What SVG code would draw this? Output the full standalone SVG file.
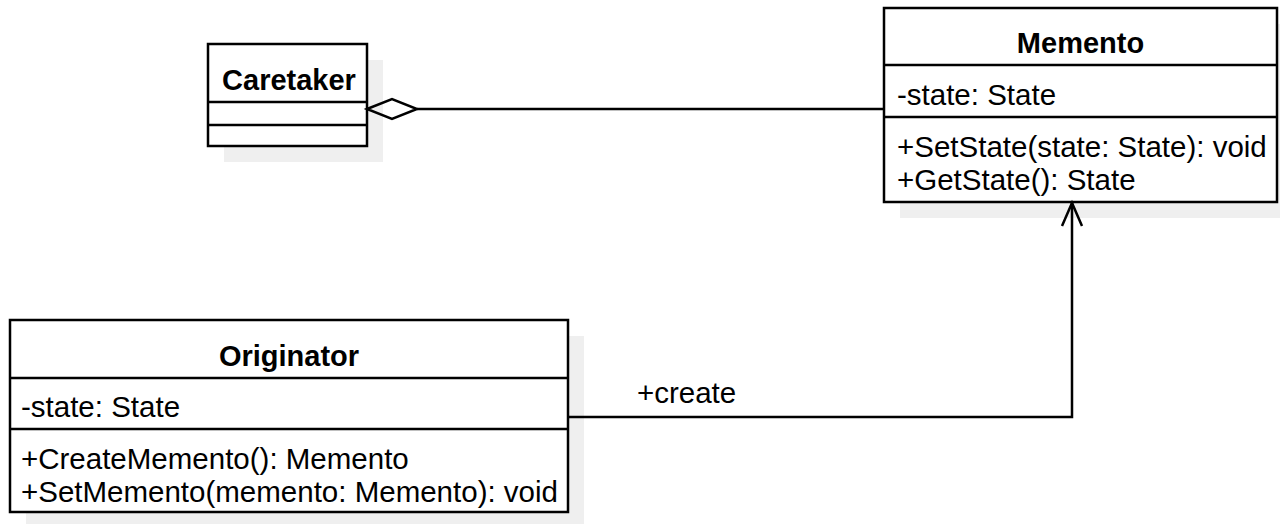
<svg xmlns="http://www.w3.org/2000/svg" width="1280" height="524" viewBox="0 0 1280 524">
<style>
.box{fill:#ffffff;stroke:#000000;stroke-width:2.5}
.div{stroke:#000000;stroke-width:2.5}
.shadow{fill:#efefef}
.t{font-family:"Liberation Sans",Arial,sans-serif;font-size:29.5px;fill:#000000}
.b{font-weight:bold;text-anchor:middle;font-size:29px}
.edge{fill:none;stroke:#000000;stroke-width:2.5}
</style>
<rect x="0" y="0" width="1280" height="524" fill="#ffffff"/>
<g id="caretaker">
<rect class="shadow" x="224" y="60" width="159" height="102"/>
<rect class="box" x="208" y="44" width="159" height="102"/>
<line class="div" x1="208" y1="102" x2="367" y2="102"/>
<line class="div" x1="208" y1="125" x2="367" y2="125"/>
<text class="t b" x="289" y="90">Caretaker</text>
</g>
<g id="memento">
<rect class="shadow" x="900" y="24" width="393" height="194"/>
<rect class="box" x="884" y="8" width="393" height="194"/>
<line class="div" x1="884" y1="65" x2="1277" y2="65"/>
<line class="div" x1="884" y1="117" x2="1277" y2="117"/>
<text class="t b" x="1080.5" y="53">Memento</text>
<text class="t" x="897" y="105">-state: State</text>
<text class="t" x="897" y="157">+SetState(state: State): void</text>
<text class="t" x="897" y="190">+GetState(): State</text>
</g>
<g id="originator">
<rect class="shadow" x="26" y="336" width="558" height="192"/>
<rect class="box" x="10" y="320" width="558" height="192"/>
<line class="div" x1="10" y1="378" x2="568" y2="378"/>
<line class="div" x1="10" y1="429" x2="568" y2="429"/>
<text class="t b" x="289" y="366">Originator</text>
<text class="t" x="21" y="417">-state: State</text>
<text class="t" x="21" y="469">+CreateMemento(): Memento</text>
<text class="t" x="21" y="502">+SetMemento(memento: Memento): void</text>
</g>
<g id="connectors">
<path class="edge" d="M417 109 L884 109"/>
<path class="edge" d="M367 109 L392 99 L417 109 L392 119 Z" fill="#ffffff"/>
<path class="edge" d="M568 417 L1072 417 L1072 203"/>
<path class="edge" d="M1062 226 L1072 203 L1082 226"/>
<text class="t" x="637" y="403">+create</text>
</g>
</svg>
